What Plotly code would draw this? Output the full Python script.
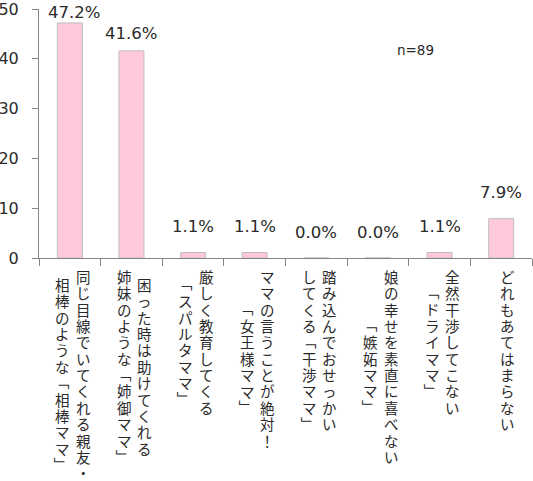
import plotly.graph_objects as go

# ---- data ----
label_columns = [
    ["同じ目線でいてくれる親友・", "相棒のような「相棒ママ」"],
    ["困った時は助けてくれる", "姉妹のような「姉御ママ」"],
    ["厳しく教育してくる", "「スパルタママ」"],
    ["ママの言うことが絶対！", "「女王様ママ」"],
    ["踏み込んでおせっかい", "してくる「干渉ママ」"],
    ["娘の幸せを素直に喜べない", "「嫉妬ママ」"],
    ["全然干渉してこない", "「ドライママ」"],
    ["どれもあてはまらない"],
]
categories = ["".join(c) for c in label_columns]
values = [47.2, 41.6, 1.1, 1.1, 0.0, 0.0, 1.1, 7.9]
y_ticks = [0, 10, 20, 30, 40, 50]
note_text = "n=89"

# ---- style ----
W, H = 533, 481
M_L, M_R, M_T, M_B = 39, 1, 9, 223
PLOT_BOTTOM = H - M_B
label_yshift = [10, 17, 26, 26, 26, 26, 26, 26]
label_xshift = [4, 0, 0, 0, 0, 0, 0, 0]
NUM_FONT = "DejaVu Sans"
JP_FONT = "Noto Sans CJK JP"
AXIS_COLOR = "#868686"
TEXT_COLOR = "#2a2a2a"
PITCH = 16.4
JP_SIZE = 14.5
LABEL_TOP = 268
COL_GAP = 20.5

fig = go.Figure()
fig.add_trace(go.Bar(
    x=categories, y=values,
    marker=dict(color="#FFC9DA", line=dict(color="#BEBEBE", width=1)),
    hoverinfo="skip",
))

annotations = []
for cat, v, ys, xs in zip(categories, values, label_yshift, label_xshift):
    annotations.append(dict(
        x=cat, y=v, xref="x", yref="y", text=f"{v:.1f}%", showarrow=False,
        yanchor="middle", xanchor="center", yshift=ys, xshift=xs,
        font=dict(family=NUM_FONT, size=16.5, color=TEXT_COLOR),
    ))

# vertical (tategaki) category labels, columns right-to-left
for cat, cols in zip(categories, label_columns):
    n = len(cols)
    base = 3 if n > 1 else 6
    maxlen = max(len(c) for c in cols)
    for j, col in enumerate(cols):
        xs = base + ((n - 1) / 2 - j) * COL_GAP
        top = LABEL_TOP + (maxlen - len(col)) * PITCH / 2
        for k, ch in enumerate(col):
            cy = top + k * PITCH + PITCH / 2
            rotate = ch in "「」"
            annotations.append(dict(
                x=cat, y=0, xref="x", yref="paper", text=ch, showarrow=False,
                xanchor="center", yanchor="middle", xshift=xs,
                yshift=-(cy - PLOT_BOTTOM), textangle=90 if rotate else 0,
                font=dict(family=JP_FONT, size=JP_SIZE, color=TEXT_COLOR),
            ))

annotations.append(dict(
    x=(415 - M_L) / (W - M_L - M_R), y=(PLOT_BOTTOM - 50) / (H - M_T - M_B),
    xref="paper", yref="paper", text=note_text, showarrow=False,
    xanchor="center", yanchor="middle",
    font=dict(family=NUM_FONT, size=13.5, color=TEXT_COLOR),
))

fig.update_layout(
    width=W, height=H,
    margin=dict(l=M_L, r=M_R, t=M_T, b=M_B, pad=0, autoexpand=False),
    plot_bgcolor="white", paper_bgcolor="white",
    bargap=0.594, showlegend=False,
    annotations=annotations,
)
fig.update_xaxes(
    showticklabels=False, showline=True, linecolor=AXIS_COLOR, linewidth=1,
    ticks="outside", tickson="boundaries", ticklen=7, tickcolor=AXIS_COLOR,
    showgrid=False, zeroline=False, fixedrange=True, automargin=False,
)
fig.update_yaxes(
    range=[0, 50], tickvals=y_ticks, ticks="outside", ticklen=6,
    tickcolor=AXIS_COLOR, showline=True, linecolor=AXIS_COLOR, linewidth=1,
    showgrid=False, zeroline=False, ticklabelstandoff=10, automargin=False,
    ticklabeloverflow="allow",
    tickfont=dict(family=NUM_FONT, size=16, color=TEXT_COLOR), fixedrange=True,
)

fig.write_html(
    "out.html",
    config={"displayModeBar": False},
    post_script="document.body.style.margin='0';document.body.style.overflow='hidden';",
)
